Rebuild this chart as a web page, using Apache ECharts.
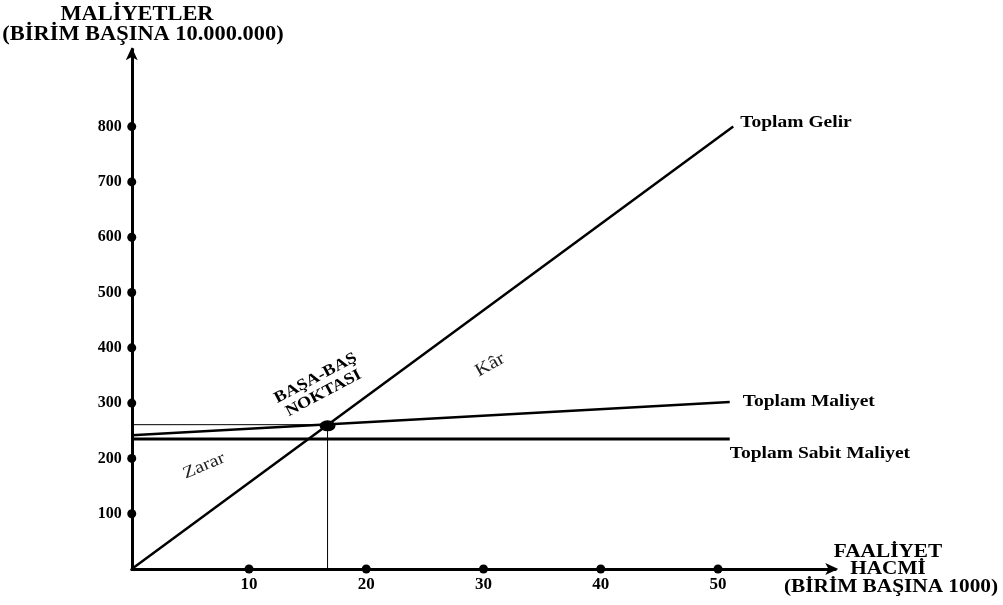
<!DOCTYPE html>
<html>
<head>
<meta charset="utf-8">
<script src="https://cdn.jsdelivr.net/npm/echarts@6/dist/echarts.min.js"></script>
<style>html,body{margin:0;padding:0;background:#fff}#c{width:1003px;height:605px}</style>
</head>
<body>
<div id="c"></div>
<script>
// ---- data ----
var xTicks = [10, 20, 30, 40, 50];
var yTicks = [100, 200, 300, 400, 500, 600, 700, 800];
var totalRevenue = [[0, 0], [51.3, 800]];
var totalCost = [[0, 242], [51.0, 302]];
var fixedCost = [[0, 235], [51.0, 235]];
var breakEven = [16.7, 259];
var bepLevel = 261;
var seriesNames = ['Toplam Gelir', 'Toplam Maliyet', 'Toplam Sabit Maliyet'];
var yTitle = ['MALİYETLER', '(BİRİM BAŞINA 10.000.000)'];
var xTitle = ['FAALİYET', 'HACMİ', '(BİRİM BAŞINA 1000)'];
var bepText = 'BAŞA-BAŞ\nNOKTASI';
var profitText = 'Kâr';
var lossText = 'Zarar';

var serif = '"Liberation Serif", "DejaVu Serif", serif';
var chart = echarts.init(document.getElementById('c'), null, {renderer: 'canvas'});

var yDots = yTicks.map(function (v) { return [0, v]; });
var xDots = xTicks.map(function (v) { return [v, 0]; });

var option = {
  animation: false,
  backgroundColor: '#fff',
  grid: {left: 131.75, right: 167.75, top: 49.2, bottom: 36, containLabel: false},
  xAxis: {
    type: 'value', min: 0, max: 60, interval: 10,
    axisLine: {show: true, lineStyle: {color: '#000', width: 3}, symbol: ['none', 'arrow'], symbolSize: [9, 13], symbolOffset: [0, 3]},
    axisTick: {show: false}, splitLine: {show: false},
    axisLabel: {
      margin: 7, fontFamily: serif, fontWeight: 'bold', fontSize: 17, color: '#000',
      formatter: function (v) { return xTicks.indexOf(v) >= 0 ? String(v) : ''; }
    }
  },
  yAxis: {
    type: 'value', min: 0, max: 940, interval: 100,
    axisLine: {show: true, lineStyle: {color: '#000', width: 3}, symbol: ['none', 'arrow'], symbolSize: [9, 13], symbolOffset: [0, 2]},
    axisTick: {show: false}, splitLine: {show: false},
    axisLabel: {
      margin: 10, fontFamily: serif, fontWeight: 'bold', fontSize: 16, color: '#000',
      formatter: function (v) { return yTicks.indexOf(v) >= 0 ? String(v) : ''; }
    }
  },
  series: [
    {name: seriesNames[0], type: 'line', data: totalRevenue, symbol: 'none', lineStyle: {color: '#000', width: 2.5}, z: 3},
    {name: seriesNames[1], type: 'line', data: totalCost, symbol: 'none', lineStyle: {color: '#000', width: 2.5}, z: 3},
    {name: seriesNames[2], type: 'line', data: fixedCost, symbol: 'none', lineStyle: {color: '#000', width: 3}, z: 3},
    {type: 'line', data: [[0, bepLevel], [breakEven[0], bepLevel]], symbol: 'none', lineStyle: {color: '#000', width: 1}, z: 2, silent: true},
    {type: 'line', data: [[breakEven[0], breakEven[1]], [breakEven[0], 0]], symbol: 'none', lineStyle: {color: '#000', width: 1}, z: 2, silent: true},
    {type: 'scatter', data: yDots, symbol: 'circle', symbolSize: 9, itemStyle: {color: '#000', opacity: 1}, z: 5},
    {type: 'scatter', data: xDots, symbol: 'circle', symbolSize: 9, itemStyle: {color: '#000', opacity: 1}, z: 5},
    {type: 'scatter', data: [breakEven], symbol: 'circle', symbolSize: [16, 11], itemStyle: {color: '#000', opacity: 1}, z: 6}
  ]
};
chart.setOption(option);

function px(p) { return chart.convertToPixel({gridIndex: 0}, p); }
function txt(text, x, y, opts) {
  opts = opts || {};
  return {
    type: 'text', x: x, y: y,
    rotation: (opts.rot || 0) * Math.PI / 180,
    scaleX: opts.sx || 1.15,
    z: 10,
    style: {
      text: text, fontFamily: serif, fontWeight: opts.w || 'bold', fontSize: opts.fs || 17,
      lineHeight: opts.lh, fill: opts.fill || '#000',
      textAlign: opts.align || 'left', textVerticalAlign: 'middle'
    }
  };
}
var revEnd = px(totalRevenue[totalRevenue.length - 1]);
var tcEnd = px(totalCost[totalCost.length - 1]);
var fcEnd = px(fixedCost[fixedCost.length - 1]);
var bep = px(breakEven);

chart.setOption({
  graphic: [
    txt(yTitle[0], 137, 15, {fs: 20, align: 'center', sx: 1.12}),
    txt(yTitle[1], 143, 35, {fs: 20, align: 'center', sx: 1.12}),
    txt(xTitle[0], 888, 552, {fs: 19, align: 'center', sx: 1.12}),
    txt(xTitle[1], 888, 569, {fs: 19, align: 'center', sx: 1.12}),
    txt(xTitle[2], 891, 587, {fs: 19, align: 'center', sx: 1.12}),
    txt(seriesNames[0], revEnd[0] + 7, revEnd[1] - 4, {fs: 16, sx: 1.22}),
    txt(seriesNames[1], tcEnd[0] + 13, tcEnd[1] + 0, {fs: 16, sx: 1.22}),
    txt(seriesNames[2], fcEnd[0] + 0, fcEnd[1] + 15, {fs: 16, sx: 1.22}),
    txt(bepText, bep[0] - 8, bep[1] - 40, {fs: 16, lh: 17, align: 'center', rot: 28, sx: 1.15}),
    txt(profitText, 490, 365, {fs: 18, w: 'normal', fill: '#222', align: 'center', rot: 29, sx: 1.15}),
    txt(lossText, 204, 466, {fs: 17, w: 'normal', fill: '#222', align: 'center', rot: 23, sx: 1.2})
  ]
});
</script>
</body>
</html>
